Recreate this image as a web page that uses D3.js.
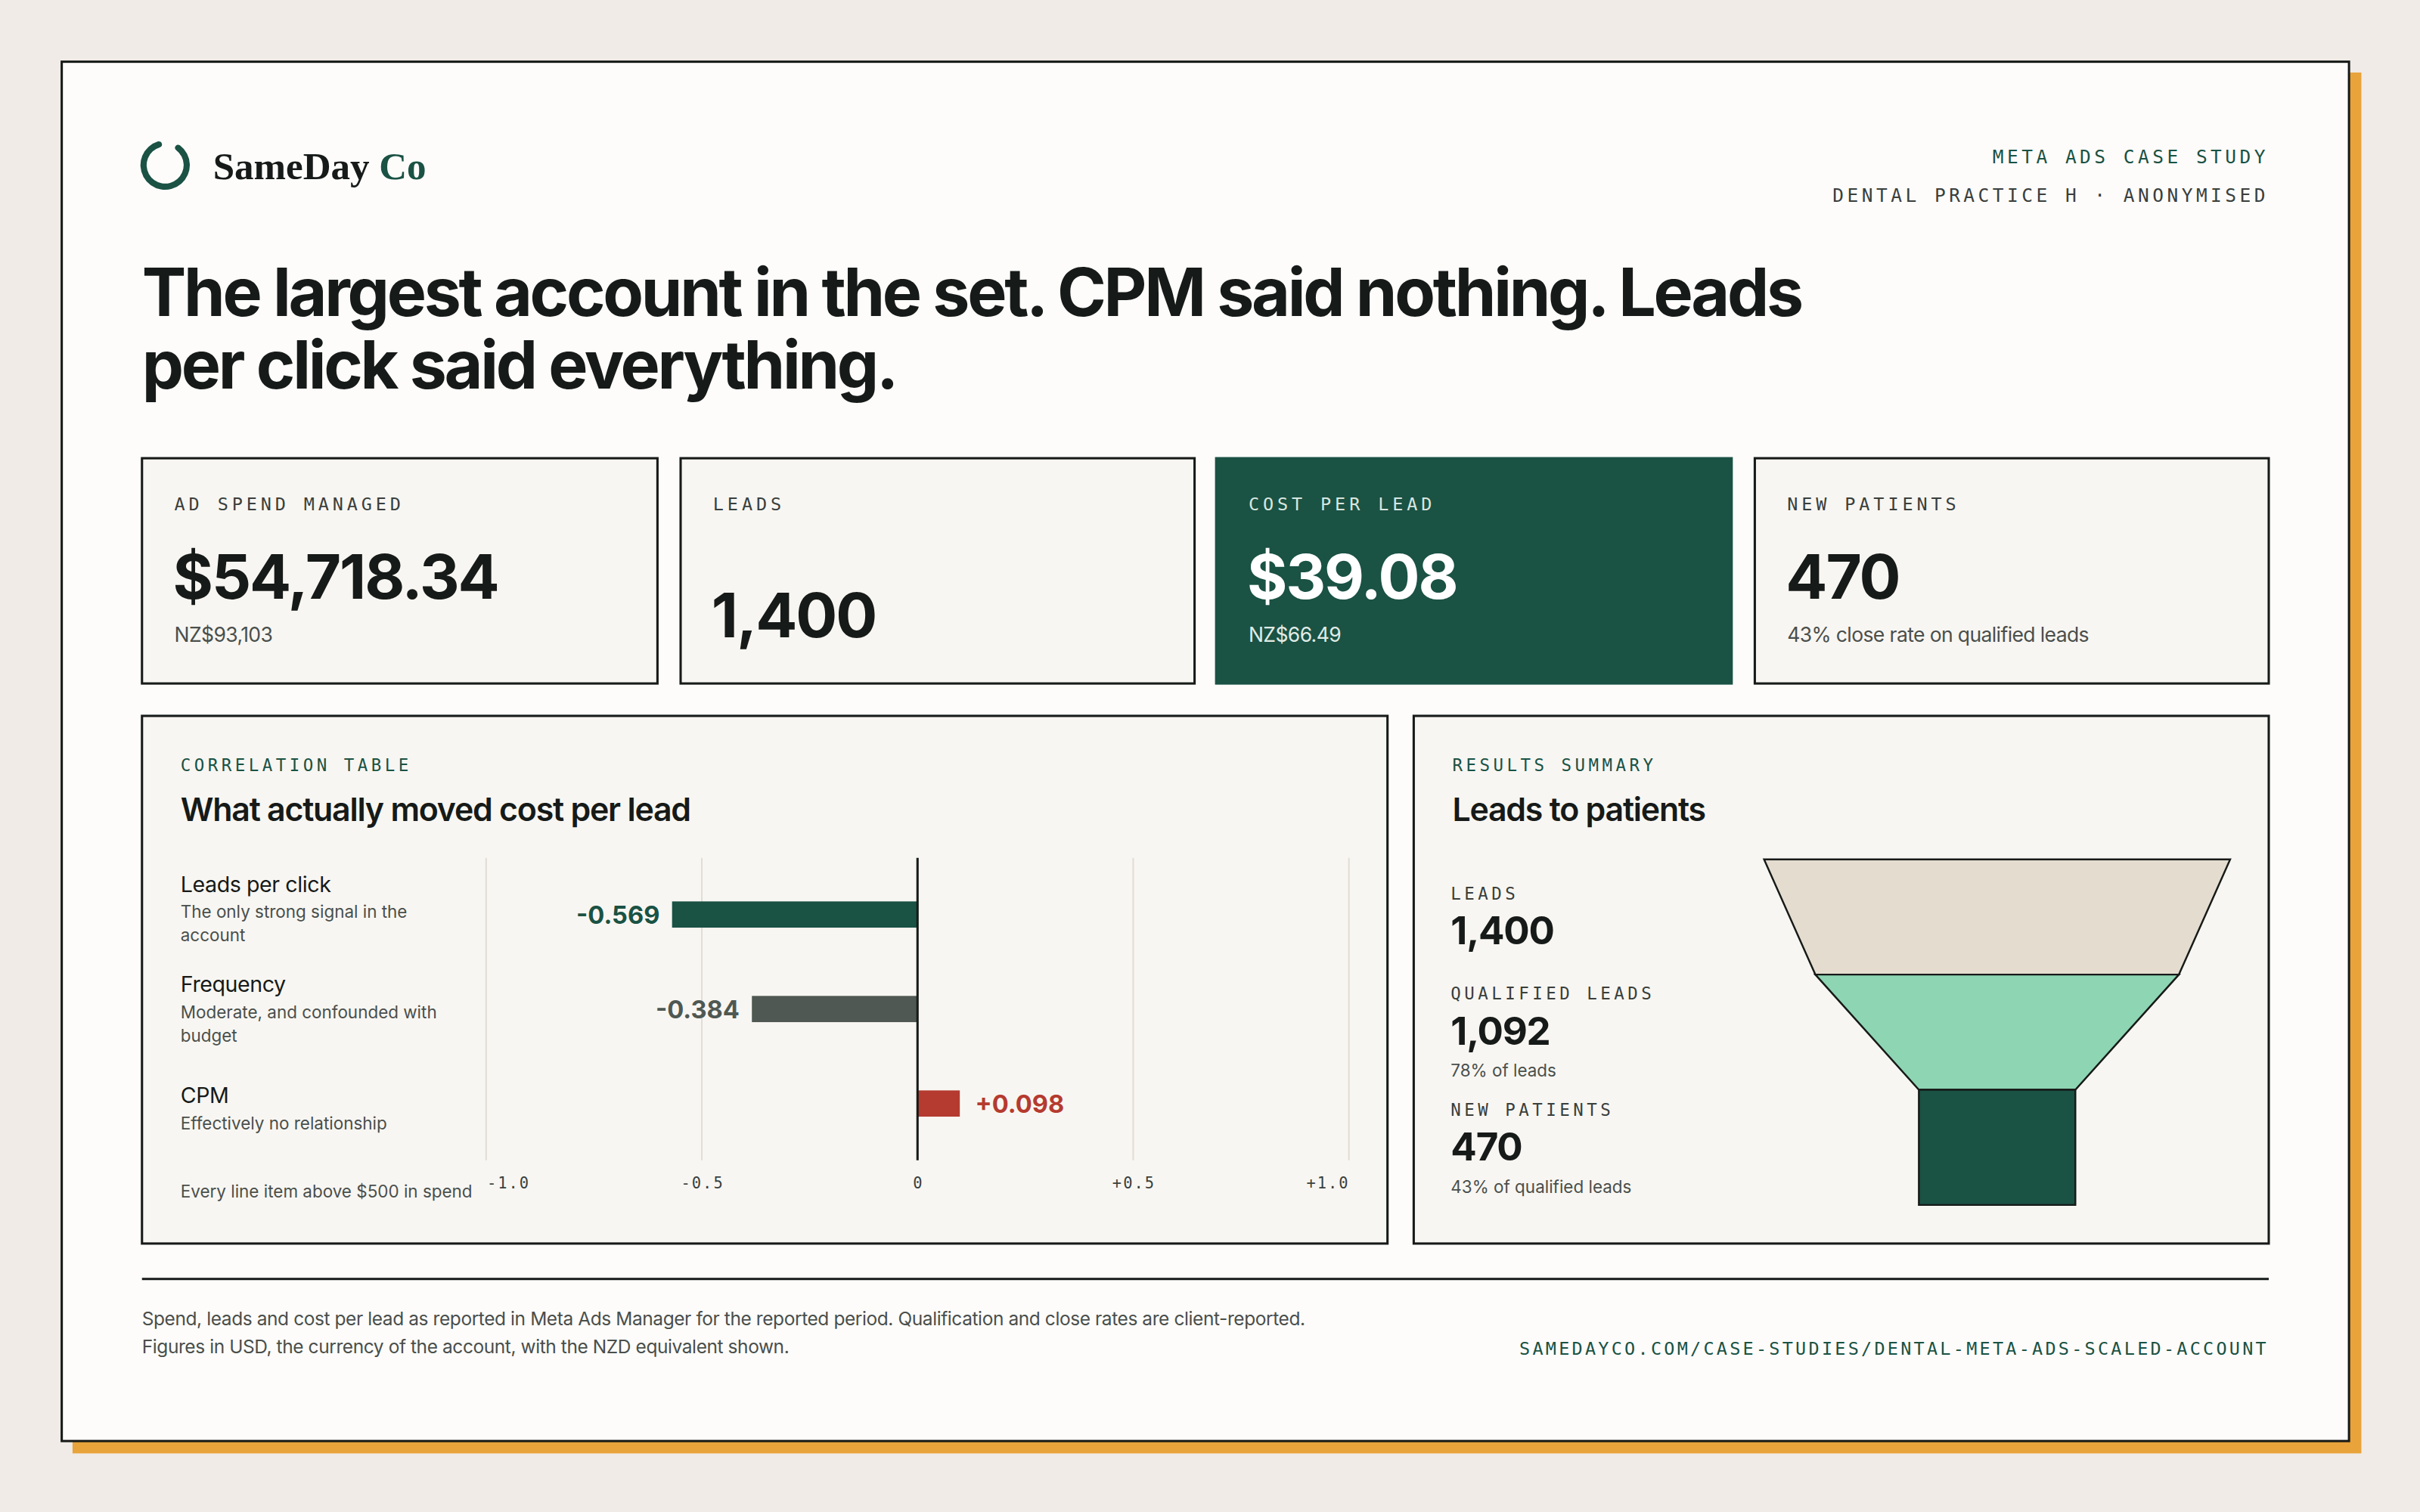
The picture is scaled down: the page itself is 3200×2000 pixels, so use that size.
<!DOCTYPE html>
<html><head><meta charset="utf-8">
<script src="https://cdn.jsdelivr.net/npm/d3@7"></script>
<style>html,body{margin:0;padding:0;background:#f0ebe6;}svg{display:block}</style>
</head><body>
<svg id="c" width="3200" height="2000" viewBox="0 0 1568 980"></svg>
<script>
const kpiLabels=["AD SPEND MANAGED","LEADS","COST PER LEAD","NEW PATIENTS"];
const kpiValues=["$54,718.34","1,400","$39.08","470"];
const kpiSubs=["NZ$93,103","","NZ$66.49","43% close rate on qualified leads"];
const corrNames=["Leads per click","Frequency","CPM"];
const corrDesc=[["The only strong signal in the","account"],["Moderate, and confounded with","budget"],["Effectively no relationship"]];
const corrValues=[-0.569,-0.384,0.098];
const corrColors=["#1a5244","#4f5852","#b53a2f"];
const corrTicks=[-1,-0.5,0,0.5,1];
const tickLabels=["-1.0","-0.5","0","+0.5","+1.0"];
const funnelLabels=["LEADS","QUALIFIED LEADS","NEW PATIENTS"];
const funnelValues=[1400,1092,470];
const funnelSubs=["","78% of leads","43% of qualified leads"];
const funnelColors=["#e3dccf","#8dd5b3","#1a5244"];

const G="#1a5244",INK="#161a18",MONO="'DejaVu Sans Mono',monospace",SANS="Inter,'Noto Sans',sans-serif";
const svg=d3.select("#c");
svg.append("rect").attr("width",1568).attr("height",980).attr("fill","#f0ebe6");
svg.append("rect").attr("x",47).attr("y",47).attr("width",1483).attr("height",895).attr("fill","#e8a33a");
svg.append("rect").attr("x",40).attr("y",40).attr("width",1482).attr("height",894).attr("fill","#fdfcfa").attr("stroke",INK).attr("stroke-width",1.5);

// logo
const arc=d3.arc().innerRadius(12).outerRadius(16).startAngle(0.5).endAngle(2*Math.PI-0.15).cornerRadius(2);
svg.append("path").attr("d",arc()).attr("transform","translate(107,107)").attr("fill",G);
const lg=svg.append("text").attr("x",138).attr("y",116).attr("font-family","'Liberation Serif',serif").attr("font-weight",700).attr("font-size",25).attr("fill",INK);
lg.append("tspan").text("SameDay ");lg.append("tspan").attr("fill",G).text("Co");

svg.append("text").attr("x",1470).attr("y",106).attr("text-anchor","end").attr("font-family",MONO).attr("font-size",12).attr("letter-spacing",2.2).attr("fill",G).text("META ADS CASE STUDY");
svg.append("text").attr("x",1470).attr("y",131).attr("text-anchor","end").attr("font-family",MONO).attr("font-size",12).attr("letter-spacing",2.2).attr("fill","#3a3f3c").text("DENTAL PRACTICE H · ANONYMISED");

["The largest account in the set. CPM said nothing. Leads","per click said everything."].forEach((t,i)=>
 svg.append("text").attr("x",92).attr("y",205+i*47).attr("font-family",SANS).attr("font-weight",700).attr("font-size",43).attr("letter-spacing",-1.6).attr("fill",INK).text(t));

// KPI cards
const kx=[92,441,788,1137],kw=[334,333,334,333];
kpiLabels.forEach((l,i)=>{
 const dark=i===2;
 const g=svg.append("g").attr("transform",`translate(${kx[i]},297)`);
 g.append("rect").attr("width",kw[i]).attr("height",146).attr("fill",dark?G:"#f8f6f2").attr("stroke",dark?G:INK).attr("stroke-width",1.5);
 g.append("text").attr("x",21).attr("y",34).attr("font-family",MONO).attr("font-size",11.5).attr("letter-spacing",2.4).attr("fill",dark?"#d8e6df":"#3a3f3c").text(l);
 g.append("text").attr("x",20).attr("y",kpiSubs[i]?91:116).attr("font-family",SANS).attr("font-weight",700).attr("font-size",40).attr("letter-spacing",-1).attr("fill",dark?"#fff":INK).text(kpiValues[i]);
 if(kpiSubs[i]) g.append("text").attr("x",21).attr("y",119).attr("font-family",SANS).attr("font-size",13).attr("letter-spacing",-0.3).attr("fill",dark?"#e0ebe5":"#4a4f4c").text(kpiSubs[i]);
});

// panels
function panel(x,w,lab,head){
 svg.append("rect").attr("x",x).attr("y",464).attr("width",w).attr("height",342).attr("fill","#f8f6f2").attr("stroke",INK).attr("stroke-width",1.5);
 svg.append("text").attr("x",x+25).attr("y",500).attr("font-family",MONO).attr("font-size",11).attr("letter-spacing",2.2).attr("fill",G).text(lab);
 svg.append("text").attr("x",x+25).attr("y",532).attr("font-family",SANS).attr("font-weight",600).attr("font-size",21).attr("letter-spacing",-0.6).attr("fill",INK).text(head);
}
panel(92,807,"CORRELATION TABLE","What actually moved cost per lead");
panel(916,554,"RESULTS SUMMARY","Leads to patients");

// correlation chart
const x=d3.scaleLinear().domain([-1,1]).range([315,874]);
const y=d3.scaleBand().domain(corrNames).range([556,752]).paddingInner(0.5).paddingOuter(0.35);
svg.selectAll(".grid").data(corrTicks.filter(t=>t!==0)).join("line").attr("x1",d=>x(d)).attr("x2",d=>x(d)).attr("y1",556).attr("y2",752).attr("stroke","#e2ddd4");
svg.selectAll(".bar").data(corrValues).join("rect").attr("x",d=>Math.min(x(0),x(d))).attr("width",d=>Math.abs(x(d)-x(0)))
 .attr("y",(d,i)=>y(corrNames[i])+ (y.bandwidth()-17)/2).attr("height",17).attr("fill",(d,i)=>corrColors[i]);
svg.append("line").attr("x1",x(0)).attr("x2",x(0)).attr("y1",556).attr("y2",752).attr("stroke",INK).attr("stroke-width",1.5);
svg.selectAll(".vl").data(corrValues).join("text").attr("x",d=>d<0?x(d)-8:x(d)+10).attr("y",(d,i)=>y(corrNames[i])+y.bandwidth()/2+6)
 .attr("text-anchor",d=>d<0?"end":"start").attr("font-family",SANS).attr("font-weight",700).attr("font-size",16).attr("fill",(d,i)=>corrColors[i])
 .text(d=>(d>0?"+":"")+d.toFixed(3));
const axis=d3.axisBottom(x).tickValues(corrTicks).tickFormat((d,i)=>tickLabels[i]).tickSize(0);
const ag=svg.append("g").attr("transform","translate(0,760)").call(axis);
ag.select(".domain").remove();
ag.selectAll("text").attr("font-family",MONO).attr("font-size",10).attr("letter-spacing",1).attr("fill","#3a3f3c").attr("dy","0.71em")
 .attr("text-anchor",(d,i)=>i===0?"start":i===4?"end":"middle").attr("dx",(d,i)=>i===0?0:i===4?0:0);
const ny=[578,643,715];
corrNames.forEach((n,i)=>{
 svg.append("text").attr("x",117).attr("y",ny[i]).attr("font-family",SANS).attr("font-size",14).attr("letter-spacing",-0.2).attr("fill",INK).text(n);
 corrDesc[i].forEach((t,j)=>svg.append("text").attr("x",117).attr("y",ny[i]+17+j*15).attr("font-family",SANS).attr("font-size",11).attr("fill","#4a4f4c").text(t));
});
svg.append("text").attr("x",117).attr("y",776).attr("font-family",SANS).attr("font-size",11).attr("fill","#4a4f4c").text("Every line item above $500 in spend");

// results list
const ry=[583,648,723];
funnelLabels.forEach((l,i)=>{
 svg.append("text").attr("x",940).attr("y",ry[i]).attr("font-family",MONO).attr("font-size",11).attr("letter-spacing",2.2).attr("fill","#3a3f3c").text(l);
 svg.append("text").attr("x",940).attr("y",ry[i]+29).attr("font-family",SANS).attr("font-weight",700).attr("font-size",25).attr("letter-spacing",-0.6).attr("fill",INK).text(d3.format(",")(funnelValues[i]));
 if(funnelSubs[i]) svg.append("text").attr("x",940).attr("y",ry[i]+50).attr("font-family",SANS).attr("font-size",11).attr("fill","#4a4f4c").text(funnelSubs[i]);
});

// funnel
const fw=d3.scaleLinear().domain([0,1400]).range([0,302]);
const fy=d3.scaleBand().domain(funnelLabels).range([557,781]);
const cx=1294;
funnelValues.forEach((v,i)=>{
 const top=fy(funnelLabels[i]),bot=top+fy.bandwidth();
 const w1=fw(v),w2=i<funnelValues.length-1?fw(funnelValues[i+1]):fw(v);
 const pts=[[cx-w1/2,top],[cx+w1/2,top],[cx+w2/2,bot],[cx-w2/2,bot]];
 svg.append("polygon").attr("points",pts.map(p=>p.join(",")).join(" ")).attr("fill",funnelColors[i]).attr("stroke",INK).attr("stroke-width",1.2);
});

// footer
svg.append("line").attr("x1",92).attr("x2",1470).attr("y1",829).attr("y2",829).attr("stroke",INK).attr("stroke-width",1.5);
["Spend, leads and cost per lead as reported in Meta Ads Manager for the reported period. Qualification and close rates are client-reported.","Figures in USD, the currency of the account, with the NZD equivalent shown."]
 .forEach((t,i)=>svg.append("text").attr("x",92).attr("y",859+i*18).attr("font-family",SANS).attr("font-size",12).attr("letter-spacing",-0.2).attr("fill","#4a4f4c").text(t));
svg.append("text").attr("x",1470).attr("y",878).attr("text-anchor","end").attr("font-family",MONO).attr("font-size",11.5).attr("letter-spacing",1.6).attr("fill",G).text("SAMEDAYCO.COM/CASE-STUDIES/DENTAL-META-ADS-SCALED-ACCOUNT");
</script></body></html>
